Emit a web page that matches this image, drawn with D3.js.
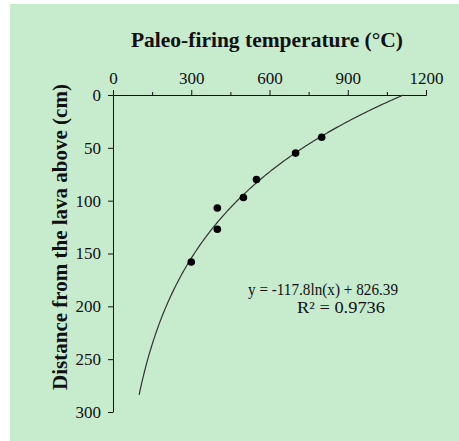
<!DOCTYPE html>
<html lang="en">
<head>
  <meta charset="UTF-8" />
  <title>Paleo-firing temperature</title>
  <script src="https://d3js.org/d3.v7.min.js"></script>
  <style>
    body { margin: 0; background: #fff; }
    svg { display: block; }
    text { font-family: "Liberation Serif", "Times New Roman", serif; fill: #111; }
    .tick text { font-size: 17px; }
    .axis path, .axis line { stroke: #111; stroke-width: 1px; }
  </style>
</head>
<body>
  <svg width="459" height="441"></svg>

  <script>
    // temperature (°C) vs distance below the lava (cm)
    const temps = [800, 700, 550, 500, 400, 400, 300];
    const depths = [40, 55, 80, 97, 107, 127, 158];

    const xTicks = [0, 300, 600, 900, 1200];
    const xMinor = [150, 450, 750, 1050];
    const yTicks = [0, 50, 100, 150, 200, 250, 300];

    // trendline y = a ln(x) + b, shown from 100 °C to where depth hits 0
    const trendA = -117.8, trendB = 826.39;
    const trendFrom = 100;
    const trendLabel = ["y = -117.8ln(x) + 826.39", "R² = 0.9736"];

    const svg = d3.select("svg");

    svg.append("rect")
      .attr("x", 10).attr("y", 4)
      .attr("width", 449).attr("height", 437)
      .attr("fill", "#c7ebcd");

    const x = d3.scaleLinear().domain([0, 1200]).range([113, 426]);
    const y = d3.scaleLinear().domain([0, 300]).range([95, 412]);

    // axes
    svg.append("g")
      .attr("class", "axis")
      .attr("transform", "translate(0,95)")
      .call(d3.axisTop(x).tickValues(xMinor).tickSize(3).tickSizeOuter(0).tickFormat(""));

    svg.append("g")
      .attr("class", "axis")
      .attr("transform", "translate(0,95)")
      .call(d3.axisTop(x).tickValues(xTicks).tickSize(5).tickSizeOuter(0)
        .tickPadding(6).tickFormat(d3.format("d")));

    svg.append("g")
      .attr("class", "axis")
      .attr("transform", "translate(113,0)")
      .call(d3.axisLeft(y).tickValues(yTicks).tickSize(5).tickSizeOuter(0).tickPadding(7));

    svg.selectAll(".axis .tick text").attr("fill", "#111");

    // trendline
    const tEnd = Math.exp(trendB / -trendA);
    const tSteps = d3.range(0, 201).map(i => trendFrom + (tEnd - trendFrom) * i / 200);
    const line = d3.line()
      .x(t => x(t))
      .y(t => y(Math.max(0, trendA * Math.log(t) + trendB)));

    svg.append("path")
      .datum(tSteps)
      .attr("d", line)
      .attr("fill", "none")
      .attr("stroke", "#333")
      .attr("stroke-width", 1.2);

    // points
    svg.append("g")
      .selectAll("circle")
      .data(temps)
      .join("circle")
      .attr("cx", d => x(d))
      .attr("cy", (d, i) => y(depths[i]))
      .attr("r", 3.8)
      .attr("fill", "#000");

    // equation label
    svg.append("text")
      .attr("x", 248).attr("y", 295)
      .attr("textLength", 150)
      .attr("lengthAdjust", "spacingAndGlyphs")
      .style("font-size", "16.5px")
      .text(trendLabel[0]);
    svg.append("text")
      .attr("x", 297).attr("y", 313)
      .attr("textLength", 88)
      .attr("lengthAdjust", "spacingAndGlyphs")
      .style("font-size", "16.5px")
      .text(trendLabel[1]);

    // titles
    svg.append("text")
      .attr("x", 267).attr("y", 47)
      .attr("text-anchor", "middle")
      .style("font-size", "21.5px")
      .style("font-weight", "bold")
      .text("Paleo-firing temperature (°C)");

    svg.append("text")
      .attr("transform", "translate(67,237) rotate(-90)")
      .attr("text-anchor", "middle")
      .style("font-size", "21px")
      .style("font-weight", "bold")
      .text("Distance from the lava above (cm)");
  </script>
</body>
</html>
